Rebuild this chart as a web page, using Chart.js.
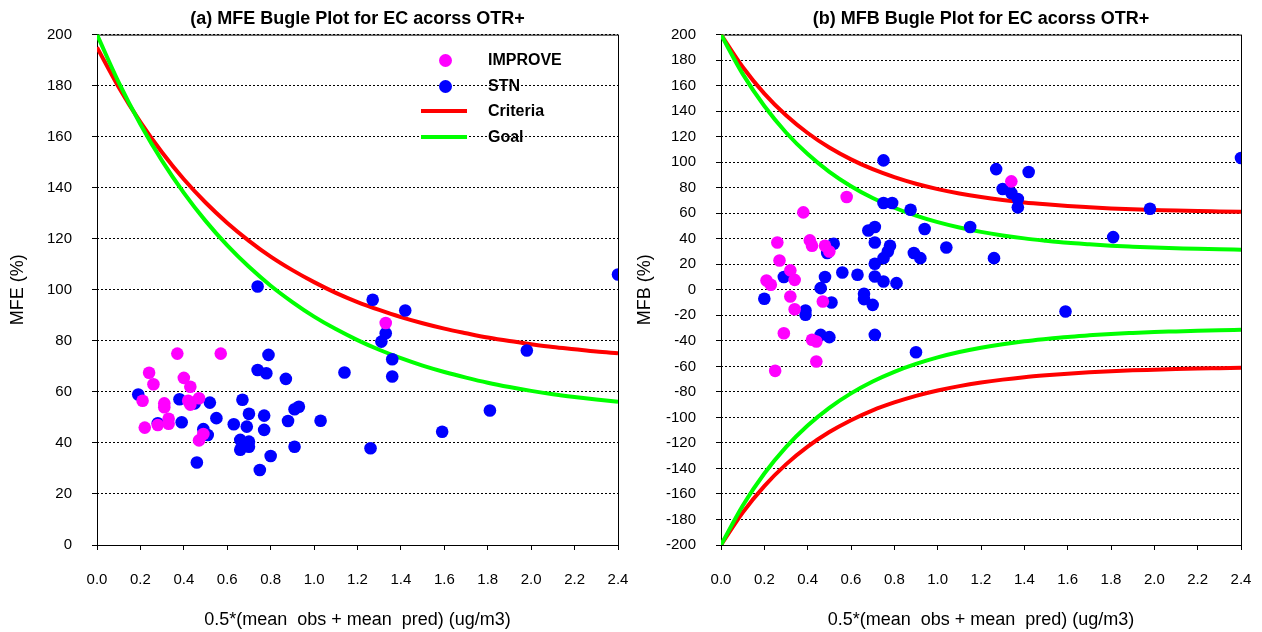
<!DOCTYPE html>
<html lang="en">
<head>
<meta charset="UTF-8">
<title>Bugle Plots EC OTR+</title>
<style>
    body {
        margin: 0;
        background: #fff;
        font-family: 'Liberation Sans', Arial, sans-serif;
    }
    .wrap {
        position: relative;
        width: 1262px;
        height: 632px;
    }
    .panel {
        position: absolute;
        top: 0;
        width: 631px;
        height: 632px;
    }
    .legend {
        position: absolute;
        left: 0;
        top: 0;
    }
    .legend .dot {
        position: absolute;
        width: 13px;
        height: 13px;
        border-radius: 50%;
    }
    .legend .bar {
        position: absolute;
        width: 46px;
        height: 4px;
    }
    .legend .lbl {
        position: absolute;
        font-weight: bold;
        font-size: 16px;
        line-height: 18px;
        color: #000;
        white-space: nowrap;
    }
</style>
<script src="https://cdn.jsdelivr.net/npm/chart.js"></script>
</head>
<body>
<div class="wrap">
    <div class="panel" style="left:0"><canvas id="mfe" width="631" height="632"></canvas></div>
    <div class="panel" style="left:631px"><canvas id="mfb" width="631" height="632"></canvas></div>
    <div class="legend">
        <div class="dot" style="left:439px;top:54px;background:#ff00ff"></div>
        <div class="lbl" style="left:488px;top:51px">IMPROVE</div>
        <div class="dot" style="left:439px;top:80px;background:#0000ff"></div>
        <div class="lbl" style="left:488px;top:77px">STN</div>
        <div class="bar" style="left:421px;top:109px;background:#ff0000"></div>
        <div class="lbl" style="left:488px;top:102px">Criteria</div>
        <div class="bar" style="left:421px;top:135px;background:#00ff00"></div>
        <div class="lbl" style="left:488px;top:128px">Goal</div>
    </div>
</div>

<script>
    // (a) MFE panel
    const mfeImproveX = [0.37, 0.57, 0.24, 0.26, 0.40, 0.43, 0.21, 0.42, 0.47, 0.43, 0.31, 0.31, 0.33, 0.33, 0.28, 0.22, 0.49, 0.47, 1.33];
    const mfeImproveY = [75, 75, 67.5, 63, 65.5, 62, 56.5, 56.5, 57.5, 55, 55.5, 54, 49.5, 47.5, 47, 46, 43.5, 41, 87];

    const mfeStnX = [0.74, 0.79, 0.74, 0.78, 0.87, 0.19, 0.38, 0.52, 0.45, 0.67, 0.55, 0.70, 0.77, 0.91, 0.93,
                     0.88, 1.03, 0.39, 0.28, 0.63, 0.69, 0.77, 0.49, 0.51, 0.66, 0.70, 0.66, 0.70, 0.91, 0.80,
                     0.46, 0.75, 1.27, 1.42, 1.33, 1.31, 1.98, 1.36, 1.14, 1.36, 1.81, 1.59, 1.26, 2.40];
    const mfeStnY = [101.3, 74.5, 68.6, 67.3, 65.1, 59, 57.1, 55.8, 55.5, 56.9, 49.7, 51.4, 50.7, 53.2, 54.2,
                     48.6, 48.7, 48.1, 47.7, 47.3, 46.4, 45.1, 45.4, 43.1, 41.2, 40.5, 37.3, 38.5, 38.5, 34.9,
                     32.3, 29.4, 96.1, 91.9, 83, 79.7, 76.2, 72.8, 67.6, 66, 52.7, 44.4, 37.9, 106];

    // (b) MFB panel
    const mfbImproveX = [0.58, 0.38, 0.26, 0.41, 0.42, 0.48, 0.50, 0.27, 0.32, 0.21, 0.23, 0.34, 0.32, 0.47,
                         0.34, 0.29, 0.42, 0.44, 0.44, 0.25, 1.34];
    const mfbImproveY = [72.7, 60.7, 37.1, 38.7, 34.5, 34.5, 30, 23, 15.2, 7.3, 3.9, 7.8, -5.2, -9.2,
                         -15.2, -34, -39.2, -40.5, -56.2, -63.5, 85];

    const mfbStnX = [0.75, 0.75, 0.79, 0.875, 0.68, 0.71, 0.94, 0.52, 0.49, 0.71, 0.78, 0.77, 0.75, 0.71, 0.89,
                     0.92, 0.56, 0.63, 0.29, 0.48, 0.71, 0.75, 0.81, 0.46, 0.20, 0.66, 0.66, 0.70, 0.51, 0.39,
                     0.39, 0.46, 0.50, 0.71, 0.90, 1.27, 1.42, 1.30, 1.34, 1.37, 1.37, 1.98, 2.40, 1.15, 1.81,
                     1.04, 1.26, 1.59];
    const mfbStnY = [101.4, 68, 68, 62.7, 46.5, 49.2, 47.6, 36.1, 28.8, 37.1, 34.5, 30, 24.8, 20.4, 28.8,
                     24.8, 13.6, 11.8, 10, 10, 10.4, 6.5, 5.2, 1.3, -7, -3.1, -7.3, -11.8, -9.9, -16.2,
                     -19.6, -35.3, -37.1, -35.3, -48.9, 94.6, 92.3, 79, 75.8, 71.1, 64.6, 63.5, 103.3, 49.2, 41.3,
                     33.2, 24.8, -17];

    // criteria / goal curves
    const curveX = [0, 0.1, 0.2, 0.3, 0.4, 0.5, 0.6, 0.7, 0.8, 0.9, 1.0, 1.1, 1.2,
                    1.3, 1.4, 1.5, 1.6, 1.7, 1.8, 1.9, 2.0, 2.1, 2.2, 2.3, 2.4];
    const mfeCriteria = [195, 179.4, 165.7, 153.8, 143.3, 134.2, 126.2, 119.2, 113.0, 107.7, 103.0, 98.8, 95.2,
                         92.1, 89.3, 86.9, 84.8, 83.0, 81.3, 79.9, 78.7, 77.6, 76.7, 75.8, 75.1];
    const mfeGoal = [200, 181.3, 164.9, 150.5, 138.0, 127.0, 117.4, 109.0, 101.6, 95.2, 89.5, 84.6, 80.3,
                     76.5, 73.2, 70.3, 67.8, 65.6, 63.6, 61.9, 60.4, 59.1, 58.0, 57.0, 56.1];
    const mfbCriteria = [200, 174.6, 153.8, 136.8, 122.9, 111.5, 102.2, 94.5, 88.3, 83.1, 78.9, 75.5, 72.7,
                         70.4, 68.5, 67.0, 65.7, 64.7, 63.8, 63.1, 62.6, 62.1, 61.7, 61.4, 61.1];
    const mfbGoal = [200, 169.2, 144.0, 123.3, 106.4, 92.5, 81.2, 71.9, 64.3, 58.1, 53.0, 48.8, 45.4,
                     42.6, 40.3, 38.5, 36.9, 35.7, 34.6, 33.8, 33.1, 32.6, 32.1, 31.7, 31.4];

    const xTitle = '0.5*(mean  obs + mean  pred) (ug/m3)';

    Chart.defaults.font.family = "'Liberation Sans', Arial, sans-serif";
    Chart.defaults.color = '#000';
    Chart.defaults.animation = false;

    function pts(xs, ys) {
        return xs.map((x, i) => ({ x: x, y: ys[i] }));
    }

    function dots(label, xs, ys, color, order) {
        return {
            label: label,
            data: pts(xs, ys),
            backgroundColor: color,
            borderWidth: 0,
            pointRadius: 6.3,
            pointHoverRadius: 6.3,
            order: order
        };
    }

    function curve(label, ys, color, order) {
        return {
            label: label,
            data: pts(curveX, ys),
            showLine: true,
            borderColor: color,
            borderWidth: 4,
            pointRadius: 0,
            cubicInterpolationMode: 'monotone',
            order: order
        };
    }

    const frame = {
        id: 'frame',
        beforeDatasetsDraw(chart) {
            const a = chart.chartArea;
            const ctx = chart.ctx;
            ctx.save();
            ctx.strokeStyle = '#000';
            ctx.lineWidth = 1;
            ctx.strokeRect(a.left + 0.5, a.top + 0.5, a.right - a.left, a.bottom - a.top);
            ctx.restore();
        }
    };

    function makeChart(id, title, yTitle, yMin, yMax, yWidth, yTitlePad, rightPad, datasets) {
        return new Chart(document.getElementById(id), {
            type: 'scatter',
            data: { datasets: datasets },
            options: {
                responsive: false,
                layout: { padding: { left: 0, right: rightPad, top: 0, bottom: 0 } },
                plugins: {
                    legend: { display: false },
                    tooltip: { enabled: false },
                    title: {
                        display: true,
                        text: title,
                        fullSize: false,
                        color: '#000',
                        font: { size: 18, weight: 'bold' },
                        padding: { top: 8, bottom: 5 }
                    }
                },
                scales: {
                    x: {
                        type: 'linear',
                        min: 0,
                        max: 2.4,
                        afterFit: s => { s.height = 87; s.paddingRight = 0; s.paddingLeft = 0; },
                        border: { display: false },
                        grid: { drawOnChartArea: false, drawTicks: true, tickLength: 5, color: '#000' },
                        ticks: {
                            stepSize: 0.2,
                            padding: 21,
                            font: { size: 15 },
                            color: '#000',
                            callback: v => Number(v).toFixed(1)
                        },
                        title: {
                            display: true,
                            text: xTitle,
                            font: { size: 18 },
                            color: '#000',
                            padding: { top: 0, bottom: 1 }
                        }
                    },
                    y: {
                        min: yMin,
                        max: yMax,
                        afterFit: s => { s.width = yWidth; },
                        border: { display: false, dash: [2, 2] },
                        grid: { color: '#000', lineWidth: 1, drawTicks: true, tickLength: 5, tickColor: '#000' },
                        ticks: { stepSize: 20, padding: 20, font: { size: 15 }, color: '#000' },
                        title: {
                            display: true,
                            text: yTitle,
                            font: { size: 18 },
                            color: '#000',
                            padding: { top: yTitlePad, bottom: 0 }
                        }
                    }
                }
            },
            plugins: [frame]
        });
    }

    makeChart('mfe', '(a) MFE Bugle Plot for EC acorss OTR+', 'MFE (%)', 0, 200, 97, 7, 13, [
        dots('IMPROVE', mfeImproveX, mfeImproveY, '#ff00ff', 0),
        dots('STN', mfeStnX, mfeStnY, '#0000ff', 1),
        curve('Goal', mfeGoal, '#00ff00', 2),
        curve('Criteria', mfeCriteria, '#ff0000', 3)
    ]);

    makeChart('mfb', '(b) MFB Bugle Plot for EC acorss OTR+', 'MFB (%)', -200, 200, 90, 3, 21, [
        dots('IMPROVE', mfbImproveX, mfbImproveY, '#ff00ff', 0),
        dots('STN', mfbStnX, mfbStnY, '#0000ff', 1),
        curve('Goal', mfbGoal, '#00ff00', 2),
        curve('Criteria', mfbCriteria, '#ff0000', 3),
        curve('Goal', mfbGoal.map(v => -v), '#00ff00', 2),
        curve('Criteria', mfbCriteria.map(v => -v), '#ff0000', 3)
    ]);
</script>
</body>
</html>
